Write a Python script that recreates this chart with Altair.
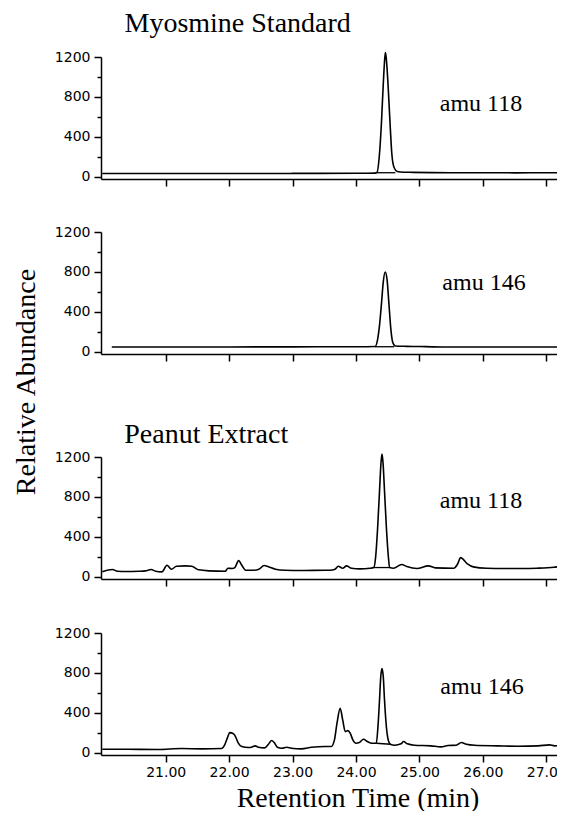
import altair as alt
import pandas as pd

# ---------------- data ----------------
# Panel 1: Myosmine standard, amu 118
p1_t = [20.00, 21.00, 22.00, 23.00, 24.00, 24.30, 24.33, 24.37, 24.40, 24.43, 24.455, 24.465,
        24.48, 24.51, 24.54, 24.565, 24.60, 24.65, 24.70, 24.90, 25.50, 26.00, 26.50, 27.00, 27.20]
p1_v = [30, 30, 30, 31, 32, 34, 40, 226, 528, 931, 1200, 1245,
        1166, 864, 494, 226, 90, 50, 45, 42, 38, 38, 37, 38, 38]

# Panel 2: Myosmine standard, amu 146
p2_t = [20.15, 21.00, 22.00, 23.00, 24.00, 24.30, 24.34, 24.37, 24.40, 24.43, 24.46,
        24.49, 24.52, 24.55, 24.58, 24.62, 24.80, 25.00, 25.20, 25.50, 26.00, 27.00, 27.20]
p2_v = [45, 45, 46, 47, 48, 50, 120, 260, 470, 700, 798,
        720, 470, 220, 90, 55, 52, 50, 47, 45, 45, 45, 45]

# Panel 3: Peanut extract, amu 118
p3_t = [20.00, 20.16, 20.24, 20.37, 20.58, 20.68, 20.77, 20.84, 20.94, 21.02, 21.09, 21.17,
        21.31, 21.41, 21.52, 21.68, 21.94, 21.98, 22.05, 22.09, 22.15, 22.20, 22.26, 22.39,
        22.47, 22.55, 22.62, 22.73, 22.88, 23.15, 23.51, 23.59, 23.67, 23.72, 23.79, 23.85,
        23.93, 24.06, 24.22, 24.28, 24.31, 24.34, 24.37, 24.395, 24.41, 24.425, 24.45, 24.48,
        24.51, 24.53, 24.59, 24.72, 24.80, 24.96, 25.14, 25.25, 25.54, 25.60, 25.65, 25.75,
        25.85, 26.06, 26.33, 26.59, 26.85, 27.12, 27.20]
p3_v = [47, 70, 53, 50, 53, 57, 70, 53, 47, 113, 73, 103,
        107, 103, 67, 57, 53, 83, 80, 90, 160, 113, 63, 63,
        73, 110, 97, 73, 63, 60, 63, 63, 73, 103, 83, 107,
        83, 77, 83, 90, 200, 480, 850, 1150, 1230, 1150, 850, 480,
        200, 90, 83, 120, 100, 80, 107, 87, 83, 123, 190, 130,
        97, 83, 80, 80, 83, 93, 100]

# Panel 4: Peanut extract, amu 146
p4_t = [20.00, 20.36, 20.88, 21.25, 21.57, 21.88, 21.93, 21.98, 22.01, 22.07, 22.10, 22.14,
        22.20, 22.30, 22.35, 22.41, 22.46, 22.56, 22.62, 22.67, 22.71, 22.76, 22.83, 22.91,
        22.98, 23.14, 23.30, 23.51, 23.61, 23.66, 23.70, 23.75, 23.79, 23.83, 23.87, 23.91,
        23.95, 24.00, 24.05, 24.12, 24.18, 24.25, 24.32, 24.345, 24.37, 24.39, 24.41, 24.43,
        24.45, 24.48, 24.51, 24.54, 24.61, 24.71, 24.75, 24.81, 24.92, 25.18, 25.34, 25.45,
        25.58, 25.66, 25.74, 25.87, 26.24, 26.55, 26.87, 27.05, 27.13, 27.20]
p4_v = [33, 33, 30, 40, 37, 40, 77, 160, 200, 187, 160, 100,
        60, 50, 53, 67, 53, 47, 83, 120, 100, 53, 43, 53,
        43, 37, 53, 60, 60, 127, 293, 443, 327, 210, 220, 193,
        127, 93, 100, 133, 110, 93, 93, 250, 520, 760, 843, 760,
        520, 250, 120, 83, 73, 87, 110, 87, 73, 67, 57, 70,
        73, 100, 83, 73, 67, 63, 67, 77, 67, 70]

# Integration baselines drawn under the myosmine peak
base_t = [[24.33, 24.62], [24.30, 24.60], [24.28, 24.53], [24.32, 24.54]]
base_v = [[38, 38], [48, 48], [90, 90], [93, 83]]

amu_labels = ["amu 118", "amu 146", "amu 118", "amu 146"]
panel_titles = ["Myosmine Standard", "", "Peanut Extract", ""]
x_ticks = [21, 22, 23, 24, 25, 26, 27]
y_ticks = [0, 200, 400, 600, 800, 1000, 1200]
y_title = "Relative Abundance"
x_title = "Retention Time (min)"

# ---------------- layout / style ----------------
X_DOMAIN = [19.98, 27.2]
Y_DOMAIN = [-25, 1200]
W = 458
H = 122
SERIF = "Liberation Serif"
SANS = "DejaVu Sans"

amu_pos = [(380, 53.7), (383, 58.4), (380, 51), (381, 61)]
title_pos = [(23.5, -24.8), None, (23.2, -14), None]


def panel(i, show_labels):
    df = pd.DataFrame({"t": p_t[i], "v": p_v[i]})
    xenc = alt.X(
        "t:Q",
        scale=alt.Scale(domain=X_DOMAIN, nice=False, zero=False),
        axis=alt.Axis(
            values=x_ticks, format=".2f", labels=show_labels, title=None,
            tickSize=7, labelPadding=3, labelFontSize=14, labelFont=SANS,
        ),
    )
    yenc = alt.Y(
        "v:Q",
        scale=alt.Scale(domain=Y_DOMAIN, nice=False, zero=False),
        axis=alt.Axis(
            values=y_ticks, title=None, format="d",
            labelExpr="datum.value % 400 === 0 ? datum.label : ''",
            tickSize={"condition": {"test": "datum.value % 400 === 0", "value": 7}, "value": 4},
            labelPadding=4, labelFontSize=14, labelFont=SANS,
        ),
    )
    line = alt.Chart(df).mark_line(
        color="black", strokeWidth=1.6, interpolate="monotone"
    ).encode(x=xenc, y=yenc)

    bdf = pd.DataFrame({"t": base_t[i], "v": base_v[i]})
    base = alt.Chart(bdf).mark_line(color="black", strokeWidth=1.3).encode(x=xenc, y=yenc)

    adf = pd.DataFrame({"label": [amu_labels[i]]})
    amu = alt.Chart(adf).mark_text(
        font=SERIF, fontSize=24, align="center", baseline="alphabetic", color="black"
    ).encode(text="label:N", x=alt.value(amu_pos[i][0]), y=alt.value(amu_pos[i][1]))

    layers = [line, base, amu]
    if title_pos[i] is not None:
        tdf = pd.DataFrame({"label": [panel_titles[i]]})
        layers.append(
            alt.Chart(tdf).mark_text(
                font=SERIF, fontSize=28, align="left", baseline="alphabetic", color="black"
            ).encode(text="label:N", x=alt.value(title_pos[i][0]), y=alt.value(title_pos[i][1]))
        )
    if show_labels:
        xdf = pd.DataFrame({"label": [x_title]})
        layers.append(
            alt.Chart(xdf).mark_text(
                font=SERIF, fontSize=28, align="center", baseline="alphabetic", color="black"
            ).encode(text="label:N", x=alt.value(257), y=alt.value(174))
        )
    return alt.layer(*layers).properties(width=W, height=H)


def spacer(h, with_ytitle=False):
    sdf = pd.DataFrame({"label": [y_title if with_ytitle else ""]})
    mark = alt.Chart(sdf).mark_text(
        font=SERIF, fontSize=28, align="center", baseline="alphabetic", angle=270, color="black"
    ).encode(text="label:N", x=alt.value(-66), y=alt.value(28))
    return mark.properties(width=W, height=h)


p_t = [p1_t, p2_t, p3_t, p4_t]
p_v = [p1_v, p2_v, p3_v, p4_v]

chart = alt.vconcat(
    panel(0, False),
    spacer(52.3),
    panel(1, False),
    spacer(103, with_ytitle=True),
    panel(2, False),
    spacer(54),
    panel(3, True),
    spacing=0,
    bounds="flush",
).properties(
    padding={"left": 4, "top": 2, "right": -10, "bottom": -2},
    background="white",
).configure_view(
    strokeWidth=0
).configure_axis(
    domainColor="black", tickColor="black", labelColor="black",
    domainWidth=1.5, tickWidth=1.5, grid=False,
)

chart.save("out.html", embed_options={"renderer": "svg", "actions": False})
